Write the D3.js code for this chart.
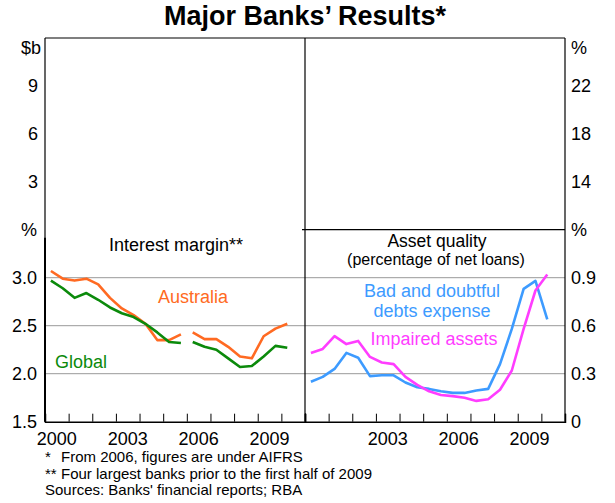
<!DOCTYPE html>
<html><head><meta charset="utf-8">
<script src="https://cdn.jsdelivr.net/npm/d3@7"></script>
<style>
body{margin:0;background:#fff;}
text{font-family:"Liberation Sans",Arial,sans-serif;}
</style></head>
<body><svg id="c" width="615" height="503"></svg>
<script>
// ---- data ----
const halfYears = [2000.25,2000.75,2001.25,2001.75,2002.25,2002.75,2003.25,2003.75,2004.25,2004.75,2005.25,2005.75,
                   2006.25,2006.75,2007.25,2007.75,2008.25,2008.75,2009.25,2009.75,2010.25];
const aifrsStart = 2006; // series break (AIFRS)
const australia = [3.07,2.99,2.97,2.99,2.93,2.79,2.68,2.61,2.52,2.35,2.35,2.41,
                   2.43,2.36,2.36,2.28,2.18,2.16,2.39,2.47,2.52];
const global = [2.97,2.89,2.79,2.84,2.77,2.69,2.63,2.59,2.52,2.43,2.33,2.32,
                2.33,2.28,2.25,2.16,2.07,2.08,2.18,2.29,2.27];
const badDebts = [0.25,0.28,0.33,0.43,0.40,0.285,0.29,0.29,0.245,0.215,0.205,0.19,
                  0.18,0.18,0.195,0.205,0.36,0.58,0.83,0.88,0.64];
const impaired = [0.43,0.455,0.535,0.485,0.505,0.405,0.37,0.36,0.28,0.23,0.19,0.167,
                  0.16,0.15,0.13,0.14,0.20,0.32,0.58,0.82,0.92];
const yearTicks = [2000,2001,2002,2003,2004,2005,2006,2007,2008,2009,2010,2011];
const leftYearLabels = [2000,2003,2006,2009];
const rightYearLabels = [2003,2006,2009];
const topLeftTicks = [3,6,9];
const topRightTicks = [14,18,22];
const marginTicks = [1.5,2.0,2.5,3.0];
const qualityTicks = [0,0.3,0.6,0.9];
const marginGrid = [2.0,2.5,3.0];
const qualityGrid = [0.3,0.6,0.9];

// ---- layout ----
const svg = d3.select("#c");
const L = 45, M = 305, R = 565, T = 38, S = 229.7, B = 421.7;
const font = 18;
const xL = d3.scaleLinear().domain([2000,2011]).range([L,M]);
const xR = d3.scaleLinear().domain([2000,2011]).range([M,R]);
const yTopL = d3.scaleLinear().domain([0,12]).range([S,T]);
const yTopR = d3.scaleLinear().domain([10,26]).range([S,T]);
const yMargin = d3.scaleLinear().domain([1.5,3.5]).range([B,S]);
const yQual = d3.scaleLinear().domain([0,1.2]).range([B,S]);

// title
svg.append("text").attr("x",305).attr("y",25).attr("text-anchor","middle")
  .attr("font-size",27).attr("font-weight","bold").text("Major Banks\u2019 Results*");

// gridlines
const grid = svg.append("g").attr("stroke","#999").attr("stroke-width",1);
marginGrid.forEach(v=>grid.append("line").attr("x1",L).attr("x2",M).attr("y1",yMargin(v)).attr("y2",yMargin(v)));
qualityGrid.forEach(v=>grid.append("line").attr("x1",M).attr("x2",R).attr("y1",yQual(v)).attr("y2",yQual(v)));

// frame
const fr = svg.append("g").attr("stroke","#000").attr("stroke-width",1.2).attr("fill","none");
fr.append("line").attr("x1",L).attr("x2",R).attr("y1",T).attr("y2",T);
fr.append("line").attr("x1",L).attr("x2",L).attr("y1",T).attr("y2",B);
fr.append("line").attr("x1",L).attr("x2",L).attr("y1",S+8).attr("y2",B).attr("stroke-width",2);
fr.append("line").attr("x1",M).attr("x2",M).attr("y1",T).attr("y2",B);
fr.append("line").attr("x1",R).attr("x2",R).attr("y1",T).attr("y2",B);
fr.append("line").attr("x1",M-3).attr("x2",R).attr("y1",S).attr("y2",S);

// bottom axes (ticks inward)
function bottomAxis(x){
  const g = svg.append("g").attr("transform",`translate(0,${B})`)
    .call(d3.axisBottom(x).tickValues(yearTicks).tickSize(-8).tickFormat(""));
  g.select(".domain").attr("stroke","#000").attr("stroke-width",1.5);
  g.selectAll(".tick line").attr("stroke","#000");
  return g;
}
bottomAxis(xL); bottomAxis(xR);
svg.append("g").selectAll("text").data(leftYearLabels).join("text")
  .attr("x",d=>xL(d+0.5)).attr("y",445).attr("text-anchor","middle").attr("font-size",font).text(d=>d);
svg.append("g").selectAll("text").data(rightYearLabels).join("text")
  .attr("x",d=>xR(d+0.5)).attr("y",445).attr("text-anchor","middle").attr("font-size",font).text(d=>d);

// y labels
function yLabels(vals, y, x, anchor, fmt){
  svg.append("g").selectAll("text").data(vals).join("text")
    .attr("x",x).attr("y",d=>y(d)).attr("dy","0.36em").attr("text-anchor",anchor)
    .attr("font-size",font).text(fmt);
}
yLabels(topLeftTicks, yTopL, 38, "end", d=>d);
yLabels(topRightTicks, yTopR, 571, "start", d=>d);
yLabels(marginTicks, yMargin, 37, "end", d3.format(".1f"));
yLabels(qualityTicks, yQual, 571, "start", d=>d===0?"0":d3.format(".1f")(d));
// unit labels
svg.append("text").attr("x",41).attr("y",yTopL(12)+10).attr("dy","0.36em").attr("text-anchor","end").attr("font-size",font).text("$b");
svg.append("text").attr("x",571).attr("y",yTopR(26)+10).attr("dy","0.36em").attr("font-size",font).text("%");
svg.append("text").attr("x",37).attr("y",yMargin(3.5)).attr("dy","0.36em").attr("text-anchor","end").attr("font-size",font).text("%");
svg.append("text").attr("x",571).attr("y",yQual(1.2)).attr("dy","0.36em").attr("font-size",font).text("%");

// series
function drawLine(x, y, vals, color, breakAt){
  const pts = halfYears.map((d,i)=>({d, v: vals[i]}));
  const line = d3.line().defined(p=>p.v!=null).x(p=>x(p.d)).y(p=>y(p.v));
  const segs = breakAt ? [pts.filter(p=>p.d<breakAt), pts.filter(p=>p.d>=breakAt)] : [pts];
  segs.forEach(s=>svg.append("path").attr("d",line(s)).attr("fill","none")
    .attr("stroke",color).attr("stroke-width",2.6).attr("stroke-linejoin","round"));
}
const cAus="#ff6a22", cGlo="#0b8a0b", cBad="#3d9bff", cImp="#ff3dff";
drawLine(xL, yMargin, australia, cAus, aifrsStart);
drawLine(xL, yMargin, global, cGlo, aifrsStart);
drawLine(xR, yQual, badDebts, cBad, null);
drawLine(xR, yQual, impaired, cImp, null);

// panel labels
svg.append("text").attr("x",176).attr("y",251).attr("text-anchor","middle").attr("font-size",font).text("Interest margin**");
svg.append("text").attr("x",193).attr("y",303).attr("text-anchor","middle").attr("font-size",font).attr("fill",cAus).text("Australia");
svg.append("text").attr("x",81).attr("y",368).attr("text-anchor","middle").attr("font-size",font).attr("fill",cGlo).text("Global");
svg.append("text").attr("x",437).attr("y",246.5).attr("text-anchor","middle").attr("font-size",17.5).text("Asset quality");
svg.append("text").attr("x",436).attr("y",265).attr("text-anchor","middle").attr("font-size",16).text("(percentage of net loans)");
svg.append("text").attr("x",432).attr("y",297).attr("text-anchor","middle").attr("font-size",font).attr("fill",cBad).text("Bad and doubtful");
svg.append("text").attr("x",432).attr("y",317).attr("text-anchor","middle").attr("font-size",font).attr("fill",cBad).text("debts expense");
svg.append("text").attr("x",434).attr("y",345).attr("text-anchor","middle").attr("font-size",font).attr("fill",cImp).text("Impaired assets");

// footnotes
const notes = [["*","From 2006, figures are under AIFRS"],["**","Four largest banks prior to the first half of 2009"],["","Sources: Banks' financial reports; RBA"]];
notes.forEach((n,i)=>{
  const yy = 462 + i*16.5;
  if(n[0]) svg.append("text").attr("x",45).attr("y",yy).attr("font-size",15).text(n[0]);
  svg.append("text").attr("x",n[0]?61:45).attr("y",yy).attr("font-size",15).text(n[1]);
});
</script></body></html>
